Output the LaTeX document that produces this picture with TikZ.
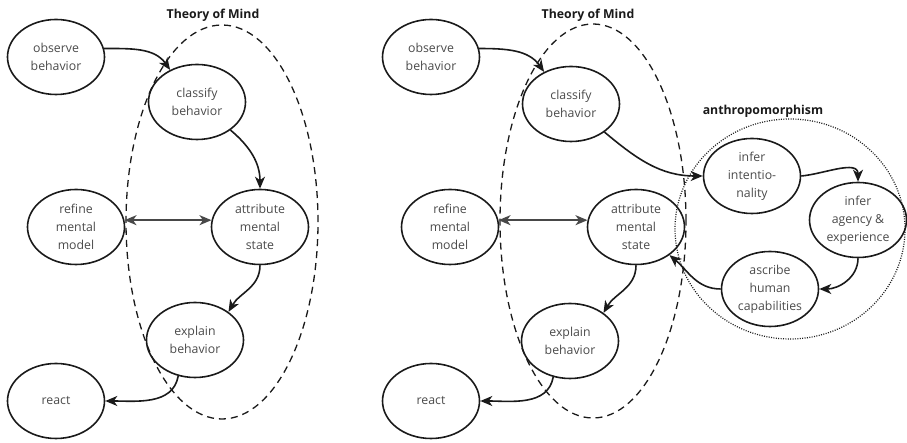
\documentclass[tikz,border=0pt]{standalone}
\usepackage{fontspec}
\setmainfont{Open Sans}
\usetikzlibrary{arrows.meta,shapes.geometric}
\definecolor{txt}{HTML}{4A4A4A}
\definecolor{ln}{HTML}{1A1A1A}
\begin{document}
\begin{tikzpicture}[x=1pt,y=1pt,
 st/.style={ellipse,draw=ln,line width=1.6pt,minimum width=97pt,minimum height=75pt,inner sep=0pt,align=center,text=txt,font=\fontsize{12.3}{18}\selectfont},
 grp/.style={ellipse,draw=ln,line width=1.3pt,dash pattern=on 7pt off 5pt,inner sep=0pt},
 dotgrp/.style={ellipse,draw=ln,line width=1.2pt,dash pattern=on 1pt off 1.4pt,inner sep=0pt},
 ttl/.style={font=\fontsize{12.3}{14}\selectfont\bfseries,text=ln},
 arr/.style={-{Stealth[length=12pt,width=10pt,inset=3.5pt]},line width=1.6pt,draw=ln},
 dbl/.style={{Stealth[length=12pt,width=10pt,inset=3.5pt]}-{Stealth[length=12pt,width=10pt,inset=3.5pt]},line width=1.6pt,draw=ln!80}]
\useasboundingbox (0,0) rectangle (907,443);

% ---------- left diagram ----------
\node[grp,minimum width=192pt,minimum height=394pt] (tom1) at (222,221) {};
\node[ttl] (t1) at (213,428) {Theory of Mind};
\node[st] (obs1) at (56,386) {observe\\behavior};
\node[st] (cls1) at (197,341) {classify\\behavior};
\node[st] (ref1) at (76,216) {refine\\mental\\model};
\node[st] (att1) at (260,216) {attribute\\mental\\state};
\node[st] (exp1) at (195,103) {explain\\behavior};
\node[st] (rea1) at (56,42) {react};

\draw[arr] (obs1.10) to[out=0,in=125] (cls1.130);
\draw[arr] (cls1.-40) to[out=-40,in=90] (att1.north);
\draw[dbl] (ref1.8) -- (att1.172);
\draw[arr] (att1.south) to[out=-90,in=60] (exp1.40);
\draw[arr] (exp1.-115) to[out=-100,in=0] (rea1.east);

% ---------- right diagram ----------
\node[grp,minimum width=186pt,minimum height=394pt] (tom2) at (593,222) {};
\node[ttl] (t2) at (588,428) {Theory of Mind};
\node[dotgrp,minimum width=230pt,minimum height=220pt] (ant) at (790,214) {};
\node[ttl] (t3) at (763,332) {anthropomorphism};
\node[st] (obs2) at (431,386) {observe\\behavior};
\node[st] (cls2) at (571,339) {classify\\behavior};
\node[st] (ref2) at (450,216) {refine\\mental\\model};
\node[st] (att2) at (636,216) {attribute\\mental\\state};
\node[st] (exp2) at (570,102) {explain\\behavior};
\node[st] (rea2) at (431,42) {react};
\node[st] (int) at (752,267) {infer\\intentio-\\nality};
\node[st] (agy) at (858,223) {infer\\agency \&\\experience};
\node[st] (asc) at (770,154) {ascribe\\human\\capabilities};

\draw[arr] (obs2.10) to[out=0,in=125] (cls2.130);
\draw[arr] (cls2.-40) to[out=-40,in=180] (int.west);
\draw[dbl] (ref2.8) -- (att2.172);
\draw[arr] (att2.south) to[out=-90,in=60] (exp2.40);
\draw[arr] (exp2.-115) to[out=-100,in=0] (rea2.east);
\draw[arr] (int.east) to[out=5,in=90] (agy.north);
\draw[arr] (agy.south) to[out=-90,in=0] (asc.east);
\draw[arr] (asc.west) to[out=180,in=-40] (att2.-40);
\end{tikzpicture}
\end{document}
